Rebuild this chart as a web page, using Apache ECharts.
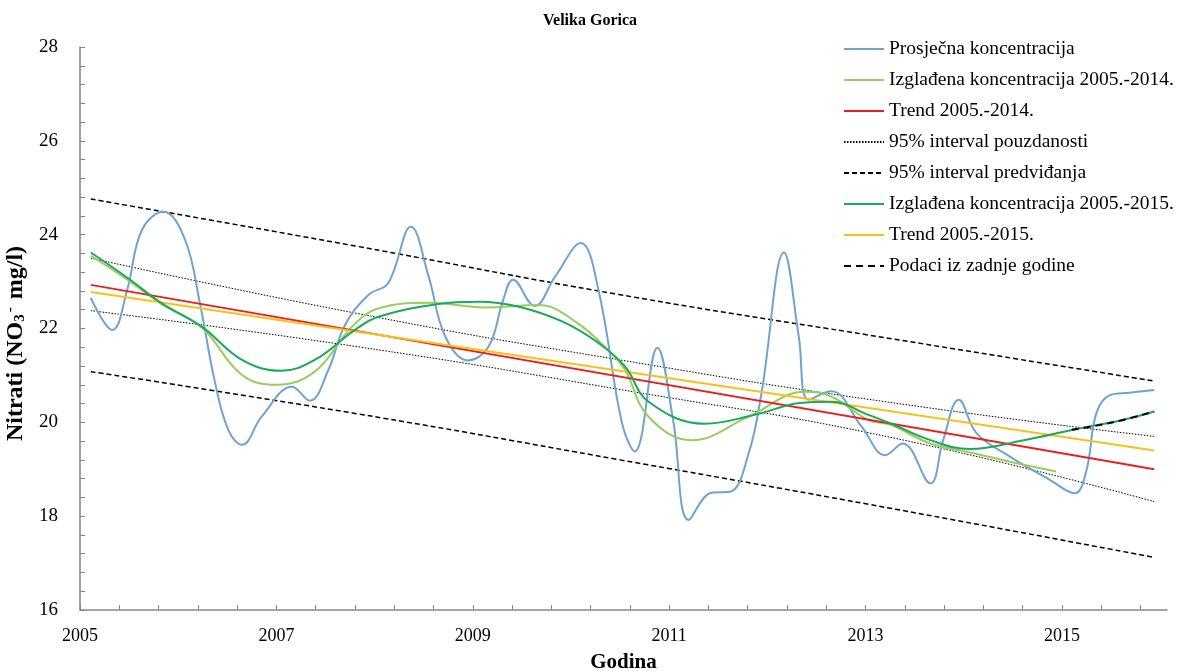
<!DOCTYPE html>
<html>
<head>
<meta charset="utf-8">
<script src="https://cdn.jsdelivr.net/npm/echarts@6/dist/echarts.min.js"></script>
<style>
  html, body { margin: 0; padding: 0; background: #fff; }
  #chart { width: 1180px; height: 671px; }
</style>
</head>
<body>
<div id="chart"></div>
<script>
// average concentration (time in decimal years)
const avgT = [2005.11, 2005.33, 2005.48, 2005.63, 2005.85, 2006.07, 2006.22, 2006.37, 2006.51, 2006.65, 2006.85, 2007.16, 2007.34, 2007.53, 2007.70, 2007.94, 2008.14, 2008.37, 2008.55, 2008.72, 2008.95, 2009.16, 2009.31, 2009.41, 2009.63, 2009.84, 2010.10, 2010.28, 2010.52, 2010.65, 2010.88, 2011.04, 2011.20, 2011.43, 2011.62, 2011.81, 2011.94, 2012.17, 2012.32, 2012.42, 2012.65, 2012.96, 2013.20, 2013.38, 2013.66, 2013.79, 2013.95, 2014.13, 2014.47, 2014.88, 2015.13, 2015.25, 2015.35, 2015.49, 2015.69, 2015.94];
const avgV = [22.65, 21.97, 22.82, 24.10, 24.49, 23.89, 22.55, 20.90, 19.84, 19.52, 20.12, 20.76, 20.46, 21.12, 22.08, 22.72, 22.97, 24.17, 23.11, 21.83, 21.32, 21.61, 22.61, 23.04, 22.48, 23.11, 23.82, 22.82, 19.98, 19.38, 21.59, 20.05, 17.92, 18.50, 18.52, 19.34, 20.62, 23.62, 21.83, 20.48, 20.66, 19.91, 19.30, 19.55, 18.70, 19.62, 20.48, 19.77, 19.27, 18.77, 18.49, 18.98, 20.19, 20.58, 20.63, 20.69];

// smoothed 2005.-2014.
const smooth14T = [2005.11, 2005.49, 2005.83, 2006.24, 2006.65, 2007.00, 2007.39, 2007.77, 2008.04, 2008.55, 2009.12, 2009.67, 2010.07, 2010.41, 2010.55, 2010.79, 2011.23, 2011.81, 2012.38, 2012.65, 2013.03, 2013.25, 2013.66, 2014.10, 2014.54, 2014.94];
const smooth14V = [23.55, 23.03, 22.52, 22.02, 21.01, 20.80, 21.08, 22.04, 22.43, 22.55, 22.45, 22.50, 22.11, 21.47, 21.12, 20.12, 19.62, 20.12, 20.65, 20.55, 20.05, 19.95, 19.55, 19.34, 19.13, 18.95];

// smoothed 2005.-2015.
const smooth15T = [2005.11, 2005.49, 2005.83, 2006.24, 2006.65, 2007.05, 2007.39, 2007.80, 2008.04, 2008.65, 2009.06, 2009.46, 2009.91, 2010.28, 2010.55, 2010.79, 2011.36, 2011.87, 2012.33, 2012.65, 2013.03, 2013.25, 2013.66, 2014.06, 2014.61, 2015.15, 2015.62, 2015.94];
const smooth15V = [23.62, 23.07, 22.54, 22.04, 21.33, 21.10, 21.33, 21.97, 22.25, 22.52, 22.57, 22.47, 22.15, 21.69, 21.19, 20.44, 19.97, 20.16, 20.41, 20.44, 20.16, 19.98, 19.62, 19.43, 19.62, 19.86, 20.05, 20.23];

// last year part
const lastT = [2015.10, 2015.35, 2015.62, 2015.94];
const lastV = [19.84, 19.93, 20.05, 20.23];

// trends
const trendT = [2005.11, 2015.94];
const trend14V = [22.93, 19.00];
const trend15V = [22.78, 19.40];

// 95% bands
const bandT = [2005.11, 2007.80, 2010.50, 2013.30, 2015.94];
const confUp = [23.50, 22.33, 21.33, 20.41, 19.70];
const confLo = [22.38, 21.62, 20.70, 19.66, 18.31];
const predUp = [24.76, 23.76, 22.72, 21.77, 20.88];
const predLo = [21.08, 20.19, 19.20, 18.15, 17.12];

const pairs = (t, v) => t.map((x, i) => [x, v[i]]);
const serif = 'Liberation Serif';

const names = {
  avg: 'Prosječna koncentracija',
  s14: 'Izglađena koncentracija 2005.-2014.',
  t14: 'Trend 2005.-2014.',
  conf: '95% interval pouzdanosti',
  pred: '95% interval predviđanja',
  s15: 'Izglađena koncentracija 2005.-2015.',
  t15: 'Trend 2005.-2015.',
  last: 'Podaci iz zadnje godine'
};

function line(name, data, color, width, type, smooth, z) {
  return {
    type: 'line', name: name, data: data,
    symbol: 'none', smooth: smooth, z: z,
    lineStyle: { color: color, width: width, type: type },
    itemStyle: { color: color },
    emphasis: { disabled: true }, animation: false
  };
}

const isInt = v => Math.abs(v - Math.round(v)) < 1e-6;

const chart = echarts.init(document.getElementById('chart'));
chart.setOption({
  backgroundColor: '#fff',
  title: {
    text: 'Velika Gorica', left: 'center', top: 8,
    textStyle: { fontFamily: serif, fontWeight: 'bold', fontSize: 16, color: '#000' }
  },
  legend: {
    orient: 'vertical', left: 838, top: 34,
    itemWidth: 40, itemHeight: 10, itemGap: 11,
    itemStyle: { opacity: 0 },
    data: [names.avg, names.s14, names.t14, names.conf, names.pred, names.s15, names.t15, names.last],
    textStyle: { fontFamily: serif, fontSize: 19.5, color: '#000' }
  },
  grid: { left: 80, right: 13, top: 47, bottom: 61, outerBoundsMode: 'none', containLabel: false },
  xAxis: {
    type: 'value', min: 2005, max: 2016.07, interval: 0.4,
    name: 'Godina', nameLocation: 'middle', nameGap: 42,
    nameTextStyle: { fontFamily: serif, fontWeight: 'bold', fontSize: 21, color: '#000' },
    axisLine: { lineStyle: { color: '#868686', width: 1.5 } },
    axisTick: { inside: true, length: 5, lineStyle: { color: '#868686' } },
    splitLine: { show: false },
    axisLabel: {
      fontFamily: serif, fontSize: 18, color: '#000', margin: 17,
      showMaxLabel: false,
      formatter: v => (isInt(v) && Math.round(v) % 2 === 1) ? String(Math.round(v)) : ''
    }
  },
  yAxis: {
    type: 'value', min: 16, max: 28, interval: 0.4,
    name: 'Nitrati (NO{sub|3}{sup|-} mg/l)', nameLocation: 'middle', nameGap: 45, nameRotate: 90,
    nameTextStyle: {
      fontFamily: serif, fontWeight: 'bold', fontSize: 24, color: '#000',
      padding: [0, 30, 0, 0],
      rich: {
        sub: { fontFamily: serif, fontWeight: 'bold', fontSize: 15, color: '#000', verticalAlign: 'bottom', padding: [10, 0, 0, 0] },
        sup: { fontFamily: serif, fontWeight: 'bold', fontSize: 15, color: '#000', verticalAlign: 'top', padding: [0, 2, 10, 2] }
      }
    },
    axisLine: { show: true, lineStyle: { color: '#868686', width: 1.5 } },
    axisTick: { show: true, inside: true, length: 5, lineStyle: { color: '#868686' } },
    splitLine: { show: false },
    axisLabel: {
      fontFamily: serif, fontSize: 19, color: '#000', margin: 22,
      formatter: v => (isInt(v) && Math.round(v) % 2 === 0) ? String(Math.round(v)) : ''
    }
  },
  series: [
    line(names.pred, pairs(bandT, predUp), '#000', 1.5, [5, 3], true, 2),
    line(names.pred, pairs(bandT, predLo), '#000', 1.5, [5, 3], true, 2),
    line(names.conf, pairs(bandT, confUp), '#000', 1, [1.5, 1.5], true, 2),
    line(names.conf, pairs(bandT, confLo), '#000', 1, [1.5, 1.5], true, 2),
    line(names.avg, pairs(avgT, avgV), '#6FA3D6', 2, 'solid', 0.4, 3),
    line(names.s14, pairs(smooth14T, smooth14V), '#9ACD5E', 2, 'solid', 0.4, 4),
    line(names.t14, pairs(trendT, trend14V), '#E8211E', 2, 'solid', false, 5),
    line(names.s15, pairs(smooth15T, smooth15V), '#1BA95A', 2, 'solid', 0.4, 6),
    line(names.t15, pairs(trendT, trend15V), '#F8C11A', 2, 'solid', false, 5),
    line(names.last, pairs(lastT, lastV), '#000', 2, [7, 5], 0.4, 7)
  ]
});
</script>
</body>
</html>
